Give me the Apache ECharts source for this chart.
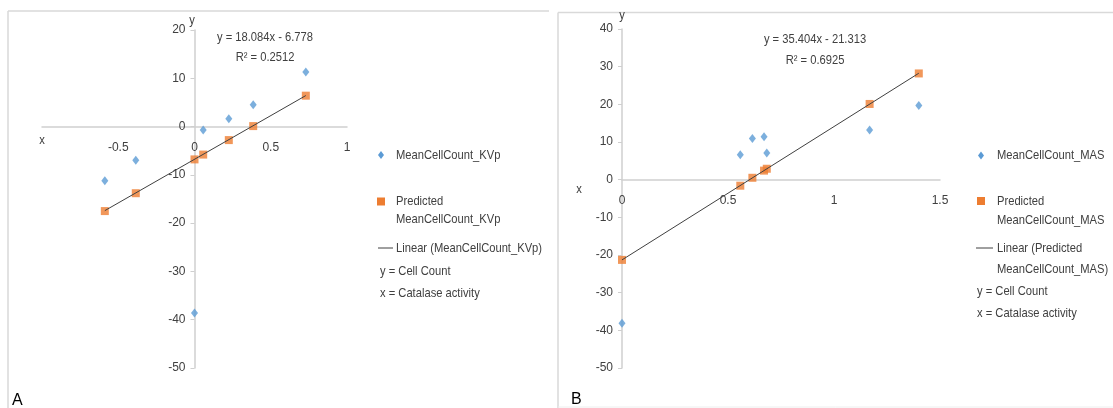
<!DOCTYPE html>
<html>
<head>
<meta charset="utf-8">
<script src="https://cdn.jsdelivr.net/npm/echarts@6/dist/echarts.min.js"></script>
<style>
html,body{margin:0;padding:0;background:#fff;}
#c{width:1113px;height:408px;}
</style>
</head>
<body>
<div id="c"></div>
<script>
// ---- Panel A data (KVp) ----
const kvpX = [-0.588, -0.385, 0, 0.057, 0.225, 0.385, 0.73];
const kvpY = [-11.2, -7.0, -38.6, -0.7, 1.6, 4.5, 11.3];
const kvpPred = [-17.5, -13.8, -6.8, -5.8, -2.8, 0.1, 6.4];
const kvpTrendX = [-0.588, 0.73];
const kvpTrendY = [-17.41, 6.42];
const kvpEq = ['y = 18.084x - 6.778', 'R\u00b2 = 0.2512'];
const kvpNames = ['MeanCellCount_KVp', 'Predicted MeanCellCount_KVp', 'Linear (MeanCellCount_KVp)'];

// ---- Panel B data (MAS) ----
const masX = [0, 0.558, 0.615, 0.67, 0.683, 1.168, 1.40];
const masY = [-38.1, 6.6, 10.9, 11.4, 7.1, 13.2, 19.7];
const masPred = [-21.3, -1.6, 0.5, 2.4, 2.9, 20.1, 28.2];
const masTrendX = [0, 1.40];
const masTrendY = [-21.3, 28.26];
const masEq = ['y = 35.404x - 21.313', 'R\u00b2 = 0.6925'];
const masNames = ['MeanCellCount_MAS', 'Predicted MeanCellCount_MAS', 'Linear (Predicted MeanCellCount_MAS)'];

// axis ranges
const kvpXRange = [-1, 1], kvpYRange = [-50, 20];
const masXRange = [0, 1.5], masYRange = [-50, 40];

const noteLines = ['y = Cell Count', 'x = Catalase activity'];
const panelLabels = ['A', 'B'];

const FONT = "'Liberation Sans', Arial, sans-serif";
const TXT = '#404040';
const BLUE = '#5B9BD5';
const ORANGE = '#ED7D31';
const AXIS = '#CFCFCF';
const SX = 0.86; // horizontal condensing for Calibri-like text

const grids = [
  {left: 42, top: 30, width: 305, height: 338},
  {left: 622, top: 29, width: 318, height: 339}
];

const zip = (xs, ys) => xs.map((x, i) => [x, ys[i]]);

// place axes where the other axis is zero (labels move with the line)
function zeroOffset(range, len) {
  return -len * (0 - range[0]) / (range[1] - range[0]);
}

function xAxisCfg(gi, range, yRange, hideFirst) {
  return {
    type: 'value', gridIndex: gi, min: range[0], max: range[1], interval: 0.5,
    position: 'bottom', offset: zeroOffset(yRange, grids[gi].height),
    axisLine: {onZero: false, lineStyle: {color: AXIS, width: 1.5}},
    axisTick: {show: false},
    splitLine: {show: false},
    axisLabel: {
      color: TXT, fontFamily: FONT, fontSize: 12, margin: 15,
      formatter: v => (hideFirst && v === range[0]) ? '' : String(v)
    }
  };
}
function yAxisCfg(gi, range, xRange) {
  return {
    type: 'value', gridIndex: gi, min: range[0], max: range[1], interval: 10,
    position: 'left', offset: zeroOffset(xRange, grids[gi].width),
    axisLine: {onZero: false, lineStyle: {color: AXIS, width: 1.5}},
    axisTick: {show: true, length: 4, lineStyle: {color: AXIS}},
    splitLine: {show: false},
    axisLabel: {color: TXT, fontFamily: FONT, fontSize: 12, margin: 9}
  };
}

function scatter(name, gi, data, color, symbol, size) {
  return {
    name: name, type: 'scatter', xAxisIndex: gi, yAxisIndex: gi,
    data: data, symbol: symbol, symbolSize: size,
    itemStyle: {color: color}, z: 3
  };
}
function trend(name, gi, data) {
  return {
    name: name, type: 'line', xAxisIndex: gi, yAxisIndex: gi,
    data: data, symbol: 'none', lineStyle: {color: '#404040', width: 1},
    z: 4, silent: true
  };
}

function txt(x, y, s, opts, sx) {
  return {
    type: 'text', x: x, y: y, silent: true, scaleX: sx === undefined ? SX : sx,
    style: Object.assign({text: s, fill: TXT, font: '13px ' + FONT, textAlign: 'left', textVerticalAlign: 'middle'}, opts || {})
  };
}
function diamond(cx, cy) {
  return {type: 'polygon', silent: true, shape: {points: [[cx, cy - 4], [cx + 3, cy], [cx, cy + 4], [cx - 3, cy]]}, style: {fill: BLUE}};
}
function square(cx, cy) {
  return {type: 'rect', silent: true, shape: {x: cx - 4, y: cy - 4, width: 8, height: 8}, style: {fill: ORANGE}};
}
function hline(x1, x2, y, color, w) {
  return {type: 'line', silent: true, shape: {x1: x1, y1: y, x2: x2, y2: y}, style: {stroke: color, lineWidth: w}};
}
function vline(x, y1, y2, color, w) {
  return {type: 'line', silent: true, shape: {x1: x, y1: y1, x2: x, y2: y2}, style: {stroke: color, lineWidth: w}};
}

const graphics = [
  // panel borders
  hline(8, 549, 11, '#D9D9D9', 1.5),
  vline(8, 11, 408, '#D9D9D9', 1.5),
  hline(558, 1113, 12.5, '#D9D9D9', 1.5),
  vline(558, 12.5, 408, '#D9D9D9', 1.5),
  hline(558, 1113, 407, '#EEEEEE', 1),
  // panel letters
  txt(12, 401, panelLabels[0], {font: '16px ' + FONT, fill: '#000'}, 1),
  txt(571, 400, panelLabels[1], {font: '16px ' + FONT, fill: '#000'}, 1),
  // axis letters
  txt(192, 20, 'y', {textAlign: 'center'}),
  txt(42, 140, 'x', {textAlign: 'center'}),
  txt(622, 15, 'y', {textAlign: 'center'}),
  txt(579, 189, 'x', {textAlign: 'center'}),
  // equations
  txt(265, 37, kvpEq[0], {textAlign: 'center'}),
  txt(265, 57, kvpEq[1], {textAlign: 'center'}),
  txt(815, 39, masEq[0], {textAlign: 'center'}),
  txt(815, 60, masEq[1], {textAlign: 'center'}),
  // legend A
  diamond(381, 155),
  txt(396, 155, kvpNames[0]),
  square(381, 201.5),
  txt(396, 201, 'Predicted'),
  txt(396, 219, 'MeanCellCount_KVp'),
  hline(378, 393, 248, '#404040', 1),
  txt(396, 248, kvpNames[2]),
  txt(380, 271, noteLines[0]),
  txt(380, 293, noteLines[1]),
  // legend B
  diamond(981, 155.5),
  txt(997, 155.5, masNames[0]),
  square(981, 201),
  txt(997, 201, 'Predicted'),
  txt(997, 220.5, 'MeanCellCount_MAS'),
  hline(976, 993, 248, '#404040', 1),
  txt(997, 248, 'Linear (Predicted'),
  txt(997, 269, 'MeanCellCount_MAS)'),
  txt(977, 291, noteLines[0]),
  txt(977, 313, noteLines[1])
];

const chart = echarts.init(document.getElementById('c'));
chart.setOption({
  animation: false,
  backgroundColor: '#fff',
  grid: grids,
  xAxis: [xAxisCfg(0, kvpXRange, kvpYRange, true), xAxisCfg(1, masXRange, masYRange, false)],
  yAxis: [yAxisCfg(0, kvpYRange, kvpXRange), yAxisCfg(1, masYRange, masXRange)],
  series: [
    scatter(kvpNames[0], 0, zip(kvpX, kvpY), BLUE, 'diamond', [7, 9]),
    scatter(kvpNames[1], 0, zip(kvpX, kvpPred), ORANGE, 'rect', 8),
    trend(kvpNames[2], 0, zip(kvpTrendX, kvpTrendY)),
    scatter(masNames[0], 1, zip(masX, masY), BLUE, 'diamond', [7, 9]),
    scatter(masNames[1], 1, zip(masX, masPred), ORANGE, 'rect', 8),
    trend(masNames[2], 1, zip(masTrendX, masTrendY))
  ],
  graphic: graphics
});
</script>
</body>
</html>
